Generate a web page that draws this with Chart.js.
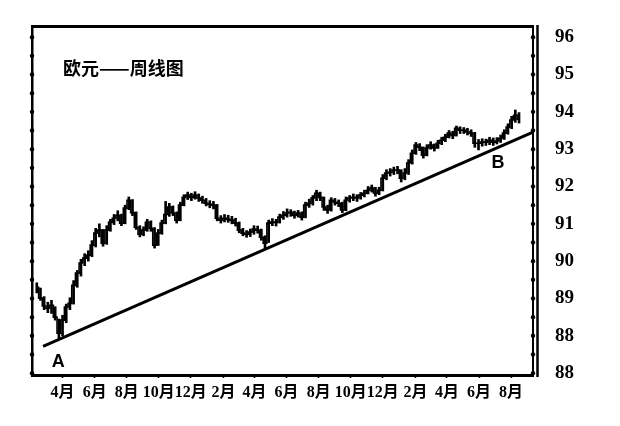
<!DOCTYPE html>
<html><head><meta charset="utf-8">
<script src="https://cdn.jsdelivr.net/npm/chart.js@4.4.0/dist/chart.umd.min.js"></script>
<style>html,body{margin:0;padding:0;background:#fff;}#wrap{width:620px;height:426px;}</style>
</head><body><div id="wrap"><canvas id="c" width="620" height="426"></canvas></div>
<script>
// ---- data ----
const startDate = Date.UTC(2002, 1, 11); // first weekly bar
const closes = [
89.30,89.01,88.80,88.74,88.82,88.50,88.07,88.42,88.77,88.87,
89.35,89.68,89.95,90.08,90.16,90.43,90.75,90.83,90.48,90.83,
91.04,91.15,91.23,91.02,91.42,91.63,91.30,90.91,90.72,90.83,
91.04,90.88,90.43,90.75,91.02,91.25,91.45,91.29,91.10,91.50,
91.71,91.77,91.71,91.77,91.69,91.63,91.55,91.52,91.50,91.15,
91.10,91.15,91.12,91.10,91.02,90.83,90.75,90.72,90.78,90.86,
90.83,90.64,90.48,91.02,91.05,91.04,91.18,91.23,91.29,91.31,
91.23,91.29,91.18,91.50,91.55,91.69,91.82,91.71,91.45,91.37,
91.63,91.58,91.55,91.37,91.63,91.69,91.71,91.69,91.77,91.82,
91.90,91.96,91.82,91.90,92.22,92.36,92.38,92.44,92.44,92.22,
92.36,92.63,92.89,93.11,93.05,92.84,93.03,93.11,93.03,93.16,
93.24,93.32,93.43,93.37,93.56,93.51,93.51,93.46,93.43,93.16,
93.16,93.19,93.19,93.24,93.19,93.22,93.29,93.43,93.59,93.78,
93.91,93.80];
const highs = [
89.42,89.28,89.05,88.90,88.95,88.78,88.45,88.55,88.85,89.02,
89.48,89.75,90.05,90.20,90.28,90.55,90.88,91.00,90.85,90.95,
91.12,91.25,91.35,91.26,91.50,91.72,91.65,91.32,90.95,90.92,
91.12,91.08,90.90,90.85,91.10,91.60,91.55,91.48,91.32,91.58,
91.78,91.85,91.82,91.86,91.80,91.74,91.68,91.62,91.60,91.52,
91.22,91.25,91.23,91.20,91.15,91.05,90.88,90.82,90.86,90.95,
90.94,90.86,90.68,91.10,91.14,91.12,91.26,91.33,91.40,91.38,
91.34,91.36,91.32,91.58,91.66,91.76,91.90,91.85,91.72,91.50,
91.70,91.68,91.64,91.58,91.72,91.76,91.80,91.78,91.84,91.90,
92.00,92.04,91.98,91.98,92.32,92.45,92.48,92.52,92.54,92.45,
92.48,92.72,92.98,93.18,93.15,93.06,93.12,93.20,93.14,93.24,
93.32,93.40,93.50,93.48,93.62,93.60,93.58,93.56,93.52,93.45,
93.26,93.28,93.27,93.32,93.30,93.31,93.38,93.52,93.68,93.88,
94.05,93.98];
const lows = [
89.15,88.95,88.70,88.62,88.60,88.42,87.94,88.00,88.35,88.70,
88.85,89.30,89.60,89.88,90.00,90.12,90.38,90.65,90.40,90.45,
90.80,90.98,91.08,90.95,91.00,91.38,91.22,90.85,90.65,90.68,
90.80,90.80,90.35,90.42,90.72,91.00,91.20,91.22,91.02,91.08,
91.48,91.65,91.62,91.66,91.60,91.55,91.48,91.43,91.40,91.08,
91.02,91.05,91.04,91.00,90.94,90.76,90.68,90.64,90.66,90.72,
90.75,90.56,90.33,90.50,90.95,90.94,91.02,91.12,91.18,91.20,
91.15,91.18,91.10,91.16,91.44,91.50,91.62,91.62,91.36,91.28,
91.34,91.50,91.46,91.30,91.35,91.58,91.62,91.60,91.66,91.72,
91.80,91.85,91.74,91.78,91.88,92.18,92.28,92.32,92.34,92.12,
92.18,92.32,92.60,92.86,92.96,92.76,92.82,93.00,92.95,93.02,
93.12,93.20,93.30,93.28,93.35,93.42,93.42,93.38,93.34,93.05,
92.98,93.08,93.10,93.12,93.10,93.14,93.18,93.26,93.40,93.55,
93.72,93.70];
const monthLabels = ['4月','6月','8月','10月','12月','2月','4月','6月','8月','10月','12月','2月','4月','6月','8月'];
const monthStarts = [[2002,3],[2002,5],[2002,7],[2002,9],[2002,11],[2003,1],[2003,3],[2003,5],[2003,7],[2003,9],[2003,11],[2004,1],[2004,3],[2004,5],[2004,7]];
const yTickValues = [96,95,94,93,92,91,90,89,88,87];
const yTickLabels = ['96','95','94','93','92','91','90','89','88','88'];
const trendWeeks = [1.7, 134.8];
const trendValues = [87.72, 93.46];
const titleText = '欧元——周线图';
const pointLabels = [{text:'A', week:5.8, value:87.3},{text:'B', week:125.3, value:92.63}];

// ---- derived ----
const DAY = 86400000;
const dayOf = (i) => i * 7;
const monthDays = monthStarts.map(([y,m]) => (Date.UTC(y,m,1) - startDate) / DAY);
const barData = closes.map((c,i) => ({x: dayOf(i), y: [lows[i], highs[i]]}));
const closeData = closes.map((c,i) => ({x: dayOf(i), y: c}));
const trendData = trendWeeks.map((w,i) => ({x: w*7, y: trendValues[i]}));
const halfTicks = [];
for (let v = 87; v <= 96.001; v += 0.5) halfTicks.push({value: Math.round(v*10)/10});

const XMIN = -9.1, XMAX = 943.6, YMIN = 86.95, YMAX = 96.3;
const noPad = (s) => { s.paddingTop = 0; s.paddingBottom = 0; s.paddingLeft = 0; s.paddingRight = 0; };

const decor = {
  id: 'decor',
  afterDraw(chart) {
    const ctx = chart.ctx, ca = chart.chartArea;
    const x = chart.scales.x, y = chart.scales.y;
    ctx.save();
    ctx.fillStyle = '#000';
    for (const t of halfTicks) {
      const py = y.getPixelForValue(t.value);
      for (const px of [ca.left, ca.right]) {
        ctx.beginPath(); ctx.arc(px, py, 2.2, 0, Math.PI*2); ctx.fill();
      }
    }
    ctx.strokeStyle = '#000'; ctx.lineWidth = 2.5;
    ctx.beginPath(); ctx.moveTo(ca.right + 4.5, ca.top - 1); ctx.lineTo(ca.right + 4.5, ca.bottom + 2); ctx.stroke();
    ctx.font = 'bold 18px "Noto Sans CJK SC"';
    ctx.textBaseline = 'middle'; ctx.textAlign = 'left';
    ctx.fillText(titleText, ca.left + 31, ca.top + 42);
    ctx.font = 'bold 18px "Liberation Sans"';
    ctx.textAlign = 'center';
    for (const p of pointLabels) {
      ctx.fillText(p.text, x.getPixelForValue(p.week*7), y.getPixelForValue(p.value));
    }
    ctx.restore();
  }
};

new Chart(document.getElementById('c'), {
  type: 'bar',
  data: {
    datasets: [
      {type:'bar', data: barData, backgroundColor:'#000', barThickness: 2, grouped:false, xAxisID:'x', yAxisID:'y'},
      {type:'line', data: closeData, borderColor:'#000', borderWidth:1.6, stepped:'middle', pointRadius:0, fill:false, xAxisID:'x', yAxisID:'y'},
      {type:'line', data: trendData, borderColor:'#000', borderWidth:3, pointRadius:0, fill:false, xAxisID:'x', yAxisID:'y'}
    ]
  },
  options: {
    responsive:false, animation:false, devicePixelRatio:1,
    layout:{padding:{left:32, top:26, right:0, bottom:0}},
    plugins:{legend:{display:false}, tooltip:{enabled:false}, title:{display:false}},
    scales:{
      x:{type:'linear', position:'bottom', min:XMIN, max:XMAX, offset:false,
        afterFit(s){ s.height = 51; noPad(s); },
        afterBuildTicks(s){ s.ticks = monthDays.map(v => ({value:v})); },
        ticks:{autoSkip:false, maxRotation:0, color:'#000', padding:5,
          font:{family:'"Liberation Serif", "Noto Sans CJK SC"', weight:'bold', size:16},
          callback:(v,i) => monthLabels[i]},
        grid:{display:true, offset:false, drawOnChartArea:false, drawTicks:true, tickLength:3, tickWidth:1.5, color:'#000'},
        border:{display:true, color:'#000', width:3}
      },
      xTop:{type:'linear', position:'top', min:XMIN, max:XMAX, offset:false,
        afterFit(s){ s.height = 0; noPad(s); },
        ticks:{display:false}, grid:{display:false, drawTicks:false},
        border:{display:true, color:'#000', width:3}
      },
      y:{type:'linear', position:'right', min:YMIN, max:YMAX,
        afterFit(s){ s.width = 87; noPad(s); },
        afterBuildTicks(s){ s.ticks = halfTicks.map(t => ({value:t.value})); },
        ticks:{color:'#000', padding:22, autoSkip:false,
          font:{family:'"Liberation Serif"', weight:'bold', size:19},
          callback:(v) => { const k = yTickValues.indexOf(v); return k >= 0 ? yTickLabels[k] : ''; }},
        grid:{display:false, drawTicks:false},
        border:{display:true, color:'#000', width:2}
      },
      yL:{type:'linear', position:'left', min:YMIN, max:YMAX,
        afterFit(s){ s.width = 0; noPad(s); },
        ticks:{display:false}, grid:{display:false, drawTicks:false},
        border:{display:true, color:'#000', width:2.5}
      }
    }
  },
  plugins:[decor]
});
</script>
</body></html>
